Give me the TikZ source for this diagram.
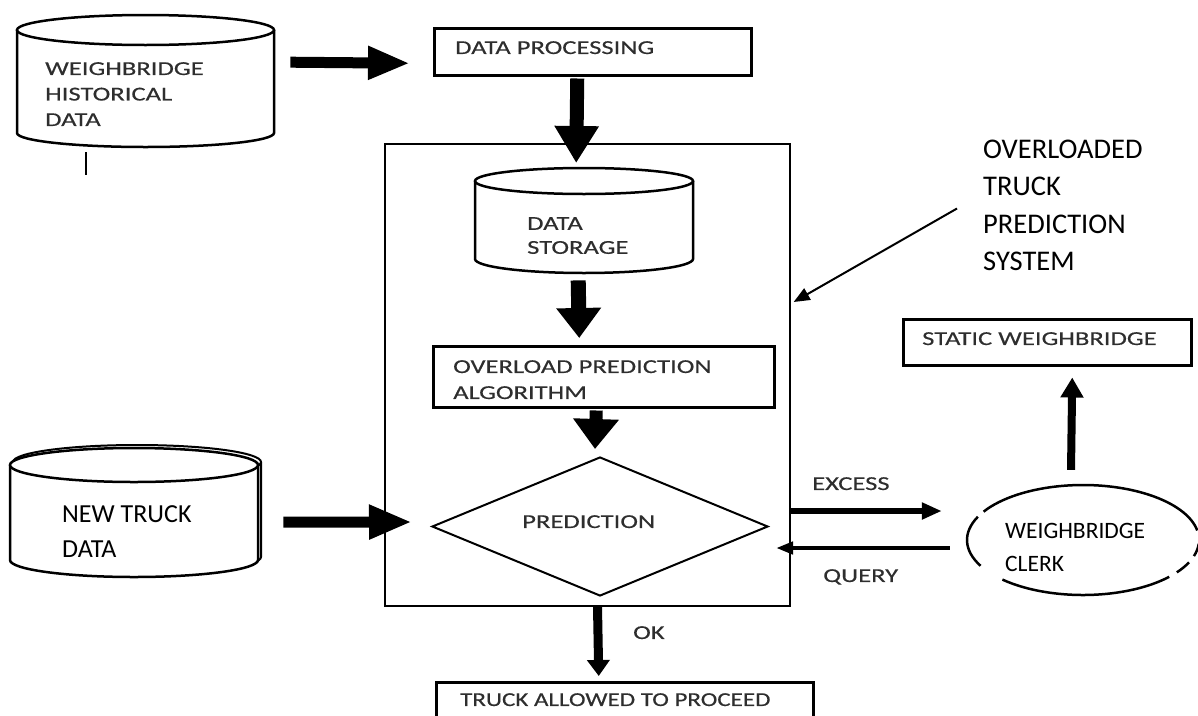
\documentclass[tikz,border=0pt]{standalone}
\usepackage{fontspec}
\setmainfont{Carlito}
\newfontfamily\widecal[FakeStretch=1.35, FakeBold=0.35]{Carlito}
\newfontfamily\widecalnarrow[FakeStretch=1.27, FakeBold=0.35]{Carlito}
\usetikzlibrary{arrows.meta,shapes.geometric,calc}

\begin{document}
\begin{tikzpicture}[x=1pt, y=-1pt,
  outline/.style={draw=black, line width=2.5pt},
  boxnode/.style={outline, rectangle, inner sep=0pt, anchor=north west},
  region/.style={draw=none, rectangle, inner sep=0pt, anchor=north west},
  smalltxt/.style={font=\widecal\fontsize{19.7}{25.5}\selectfont, text=black!82,
                   inner sep=0pt, anchor=north west, align=left},
  bigtxt/.style n args={2}{font=\fontsize{#1}{#2}\selectfont, text=black,
                   inner sep=0pt, anchor=north west, align=left},
  flow/.style n args={3}{line width=#1, -{Triangle[length=#2, width=#3]}},
  pointer/.style={line width=2pt, -{Triangle[length=16pt, width=13pt]}}
]
\useasboundingbox (0,0) rectangle (1198,715);
\clip (0,0) rectangle (1198,715);

% ---------- historical data store ----------
\node[region, minimum width=257pt, minimum height=132pt] (histdb) at (17,15) {};
\draw[outline, fill=white] (17,30) -- (17,133)
  arc[start angle=180, end angle=0, x radius=128.5, y radius=14] -- (274,30);
\draw[outline] (145.5,30) ellipse [x radius=128.5, y radius=15];
\node[smalltxt] (histtxt) at (45,62) {WEIGHBRIDGE\\HISTORICAL\\DATA};
\draw[line width=1.5pt] (86,152) -- (86,175);

% ---------- data processing ----------
\node[boxnode, minimum width=317pt, minimum height=47pt] (proc) at (433,27) {};
\node[smalltxt] (proctxt) at (455,41) {DATA PROCESSING};

% ---------- system boundary ----------
\node[draw, line width=1.3pt, minimum width=405pt, minimum height=462pt, inner sep=0pt]
  (system) at (587.5,375) {};

% ---------- data storage ----------
\node[region, minimum width=218pt, minimum height=105pt] (storedb) at (475,168) {};
\draw[outline, fill=white] (475,181) -- (475,259)
  arc[start angle=180, end angle=0, x radius=109, y radius=14] -- (693,181);
\draw[outline] (584,181) ellipse [x radius=109, y radius=13];
\node[smalltxt, font=\widecal\fontsize{19.7}{24}\selectfont] (storetxt) at (527,217) {DATA\\STORAGE};

% ---------- prediction algorithm ----------
\node[boxnode, minimum width=341pt, minimum height=61pt] (algo) at (432,345) {};
\node[smalltxt, font=\widecal\fontsize{19.7}{26}\selectfont] (algotxt) at (453,360)
  {OVERLOAD PREDICTION\\ALGORITHM};

% ---------- prediction decision ----------
\node[diamond, draw, line width=2pt, minimum width=336pt, minimum height=139pt, inner sep=0pt]
  (pred) at (600,526.5) {};
\node[smalltxt] (predtxt) at (522,515) {PREDICTION};

% ---------- new truck data store ----------
\node[region, minimum width=251pt, minimum height=132pt] (newdb) at (10,445) {};
\draw[outline, line width=2pt, fill=white] (13,462) -- (13,557)
  arc[start angle=180, end angle=0, x radius=124, y radius=17] -- (261,462);
\draw[outline, line width=2pt] (137,462) ellipse [x radius=124, y radius=17];
\draw[outline, fill=white] (10,465) -- (10,560)
  arc[start angle=180, end angle=0, x radius=124, y radius=17] -- (258,465);
\draw[outline, fill=white] (134,465) ellipse [x radius=124, y radius=17];
\node[bigtxt={26}{35}] (newtxt) at (62,505) {NEW TRUCK\\DATA};

% ---------- weighbridge clerk ----------
\node[ellipse, minimum width=232pt, minimum height=110pt, inner sep=0pt] (clerk) at (1083,540) {};
\draw[outline] ([shift={(-10:116 and 55)}]clerk.center)
  arc[start angle=-10, end angle=-149, x radius=116, y radius=55];
\draw[outline] ([shift={(-155:116 and 55)}]clerk.center)
  arc[start angle=-155, end angle=-208, x radius=116, y radius=55];
\draw[outline] ([shift={(-226:116 and 55)}]clerk.center)
  arc[start angle=-226, end angle=-318, x radius=116, y radius=55];
\draw[outline] ([shift={(-324:116 and 55)}]clerk.center)
  arc[start angle=-324, end angle=-336, x radius=116, y radius=55];
\draw[outline] ([shift={(-343:116 and 55)}]clerk.center)
  arc[start angle=-343, end angle=-356, x radius=116, y radius=55];
\node[bigtxt={23.5}{33}] (clerktxt) at (1005,523) {WEIGHBRIDGE\\CLERK};

% ---------- static weighbridge ----------
\node[boxnode, minimum width=288pt, minimum height=46pt] (static) at (902,318) {};
\node[smalltxt] (statictxt) at (922,332) {STATIC WEIGHBRIDGE};

% ---------- outcome ----------
\node[boxnode, minimum width=377pt, minimum height=60pt] (proceed) at (435,681) {};
\node[smalltxt, font=\widecalnarrow\fontsize{19.7}{25.5}\selectfont] (proceedtxt) at (460,693)
  {TRUCK ALLOWED TO PROCEED};

% ---------- system annotation ----------
\node[bigtxt={28.5}{37.3}] (note) at (983,140) {OVERLOADED\\TRUCK\\PREDICTION\\SYSTEM};
\draw[pointer] ($(note.west)+(-26,3)$) -- ($(system.east)+(3,-73)$);

% ---------- flow arrows ----------
\draw[flow={11pt}{42pt}{31pt}] ($(histdb.east)+(16,-19)$) -- ($(proc.west)+(-23,11.5)$);
\draw[flow={14pt}{37pt}{42pt}] ($(proc.south)+(-15.5,2)$) -- ($(storedb.north)+(-8,-5)$);
\draw[flow={15pt}{30pt}{43pt}] ($(storedb.south)+(-6,7)$) -- ($(algo.north)+(-24.5,-7)$);
\draw[flow={13pt}{30pt}{44pt}] ($(algo.south)+(-7.5,2)$) -- ($(pred.north)+(-5,-7)$);
\draw[flow={11pt}{43pt}{32pt}] ($(newdb.east)+(22,11)$) -- ($(pred.west)+(-19,-4.5)$);
\draw[flow={5.5pt}{20pt}{16pt}] ($(pred.east)+(22,-15.5)$) -- ($(clerk.west)+(-25,-29)$);
\draw[flow={4.5pt}{17pt}{12pt}] ($(clerk.west)+(-17,8)$) -- ($(pred.east)+(7,21.5)$);
\draw[flow={8pt}{20pt}{22pt}] ($(clerk.north)+(-12,-15)$) -- ($(static.south)+(25,11)$);
\draw[flow={9pt}{16pt}{22pt}] ($(pred.south)+(-2.5,10)$) -- ($(proceed.north)+(-26,-5)$);

% ---------- arrow labels ----------
\node[smalltxt] (excesstxt) at (812,477) {EXCESS};
\node[smalltxt] (querytxt) at (823,569) {QUERY};
\node[smalltxt] (oktxt) at (633,626) {OK};
\end{tikzpicture}
\end{document}
